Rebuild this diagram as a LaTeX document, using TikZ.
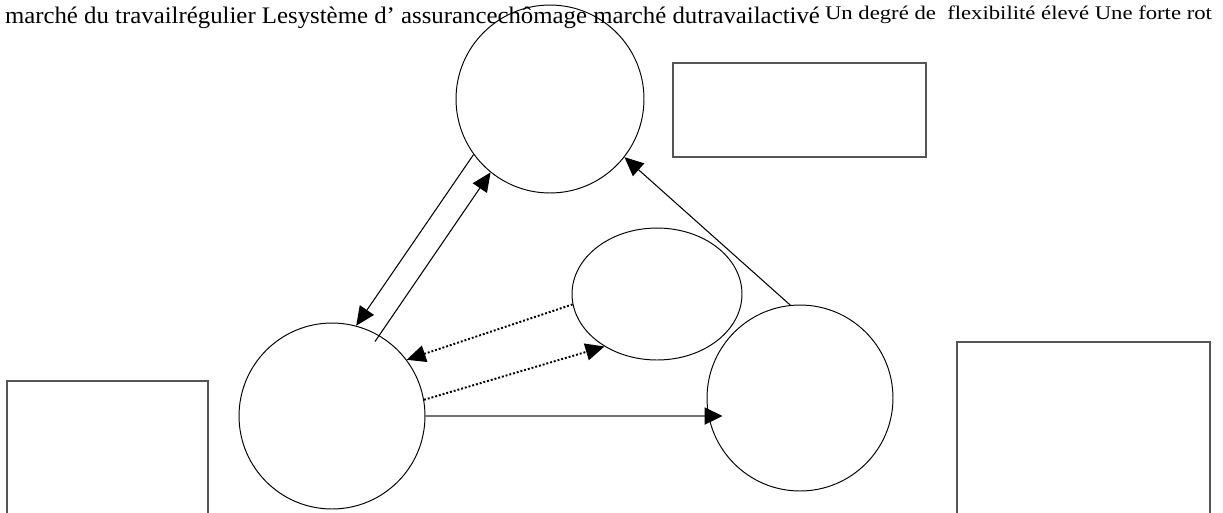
\documentclass[tikz,border=0pt]{standalone}
\usepackage{fontspec}
\setmainfont{Liberation Serif}
\usepackage{graphicx}
\usetikzlibrary{positioning}
\usetikzlibrary{calc}
\usetikzlibrary{arrows.meta}
\usetikzlibrary{shapes.geometric}
\definecolor{edgegray}{RGB}{85,85,85}
\definecolor{linegray}{RGB}{115,115,115}

\begin{document}
\begin{tikzpicture}[
    x=0.02cm, y=-0.02cm,
    >={Triangle[length=0.38cm,width=0.34cm]},
    % node styles
    circ/.style = {
      circle,
      draw,
      line width=0.55pt,
      minimum size=3.72cm,
      inner sep=0pt
    },
    oval/.style = {
      ellipse,
      draw,
      line width=0.55pt,
      minimum width=3.4cm,
      minimum height=2.64cm,
      inner sep=0pt
    },
    box/.style = {
      rectangle,
      draw=edgegray,
      line width=0.9pt,
      inner sep=0pt
    },
    txt/.style = {anchor=base west, inner sep=0pt, outer sep=0pt},
    % arrow styles
    arr/.style = {->, line width=0.6pt},
    dotarr/.style = {->, line width=1.1pt, dash pattern=on 1.1pt off 1.1pt},
    flatarr/.style = {-{Triangle[length=0.36cm,width=0.34cm,color=black]}, line width=1.1pt, draw=linegray}
  ]
  \useasboundingbox (0,0) rectangle (1223,512);

  % --- Labels
  \node[txt] (toptext) at (5,23) {\resizebox{16.3cm}{\height}{\fontsize{13.5}{16}\selectfont marché du travailrégulier Lesystème d’ assurancechômage marché dutravailactivé}};
  \node[txt] (sidetext) at (825,19) {\resizebox{7.74cm}{\height}{\fontsize{11}{13}\selectfont Un degré de~ flexibilité élevé Une forte rot}};

  % --- Nodes
  \node[circ, minimum size=3.76cm] (assur) at (550,99) {};
  \node[circ] (regul) at (332,416) {};
  \node[circ] (activ) at (800,398) {};
  \node[oval] (flexi) at (657,294) {};

  \node[box, minimum width=5.06cm, minimum height=1.88cm] (flexbox) at (799.5,110) {};
  \node[box, minimum width=4.02cm, minimum height=3.58cm] (leftbox) at (107.5,470.5) {};
  \node[box, minimum width=5.06cm, minimum height=4.36cm] (rotbox) at (1083.5,451) {};

  % --- Arrows
  \draw[arr] (assur.216) -- (regul.75);
  \draw[arr] ($(regul)!0.92!(regul.60)$) -- (assur.231);
  \draw[arr] (activ.96) -- (assur.322);
  \draw[dotarr] (flexi.187) -- (regul.37);
  \draw[dotarr] (regul.10) -- (flexi.225);
  \draw[flatarr, shorten >=-0.32cm] (regul.east) -- (regul.east -| activ.west);

\end{tikzpicture}
\end{document}
